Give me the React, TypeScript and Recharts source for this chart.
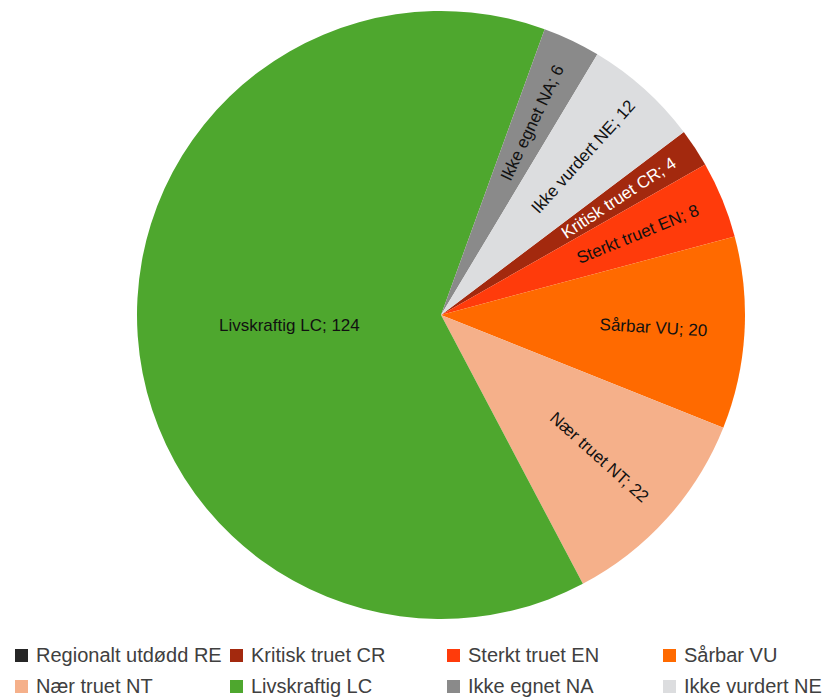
import React from 'react';
import { PieChart, Pie, Cell, Legend } from 'recharts';

const categories = [
  'Regionalt utdødd RE',
  'Kritisk truet CR',
  'Sterkt truet EN',
  'Sårbar VU',
  'Nær truet NT',
  'Livskraftig LC',
  'Ikke egnet NA',
  'Ikke vurdert NE',
];
const values = [0, 4, 8, 20, 22, 124, 6, 12];
const colors = ['#262626', '#A3290E', '#FF3B0B', '#FF6A00', '#F5B08A', '#4EA72E', '#8A8A8A', '#DCDDDF'];
const labelColors = ['#000', '#fff', '#111', '#111', '#111', '#111', '#111', '#111'];

const data = categories.map((name, i) => ({ name, value: values[i] }));

const RAD = Math.PI / 180;
const LABEL_FONT = "'Liberation Sans', Arial, sans-serif";
const LEGEND_FONT = "'Liberation Sans', Arial, sans-serif";

const renderLabel = (props: any) => {
  const { cx, cy, midAngle, outerRadius, percent, index, value, name } = props;
  if (!value) return null;
  const big = percent > 0.5;
  const r = outerRadius * (big ? 0.5 : 0.7);
  const x = cx + r * Math.cos(-midAngle * RAD);
  const y = cy + r * Math.sin(-midAngle * RAD);
  let rot = big ? 0 : -midAngle;
  while (rot > 90) rot -= 180;
  while (rot < -90) rot += 180;
  return (
    <text
      x={x}
      y={y}
      fill={labelColors[index]}
      fontSize={17}
      fontFamily={LABEL_FONT}
      textAnchor="middle"
      dominantBaseline="central"
      transform={`rotate(${rot} ${x} ${y})`}
    >
      {`${name}; ${value}`}
    </text>
  );
};

const colX = [15, 230, 447, 663];
const rowY = [655, 686];

const renderLegend = () => (
  <div style={{ position: 'relative', width: 826, height: 699 }}>
    {categories.map((name, i) => {
      const col = i % 4;
      const row = Math.floor(i / 4);
      return (
        <div
          key={name}
          style={{
            position: 'absolute',
            left: colX[col],
            top: rowY[row] - 10,
            height: 20,
            display: 'flex',
            alignItems: 'center',
            whiteSpace: 'nowrap',
          }}
        >
          <span style={{ display: 'inline-block', width: 13, height: 13, background: colors[i], marginRight: 8 }} />
          <span style={{ fontFamily: LEGEND_FONT, fontSize: 20, color: '#404040', lineHeight: '20px' }}>{name}</span>
        </div>
      );
    })}
  </div>
);

export default function App() {
  return (
    <div style={{ position: 'absolute', left: 0, top: 0, width: 826, height: 699, background: '#fff' }}>
      <PieChart width={826} height={699} margin={{ top: 0, right: 0, bottom: 0, left: 0 }}>
        <Pie
          data={data}
          dataKey="value"
          nameKey="name"
          cx={441}
          cy={315}
          outerRadius={304}
          startAngle={37}
          endAngle={-323}
          stroke="none"
          label={renderLabel}
          labelLine={false}
          isAnimationActive={false}
        >
          {data.map((d, i) => (
            <Cell key={d.name} fill={colors[i]} />
          ))}
        </Pie>
        <Legend
          content={renderLegend}
          wrapperStyle={{ position: 'absolute', left: 0, top: 0, width: 826, height: 699, pointerEvents: 'none' }}
        />
      </PieChart>
    </div>
  );
}
